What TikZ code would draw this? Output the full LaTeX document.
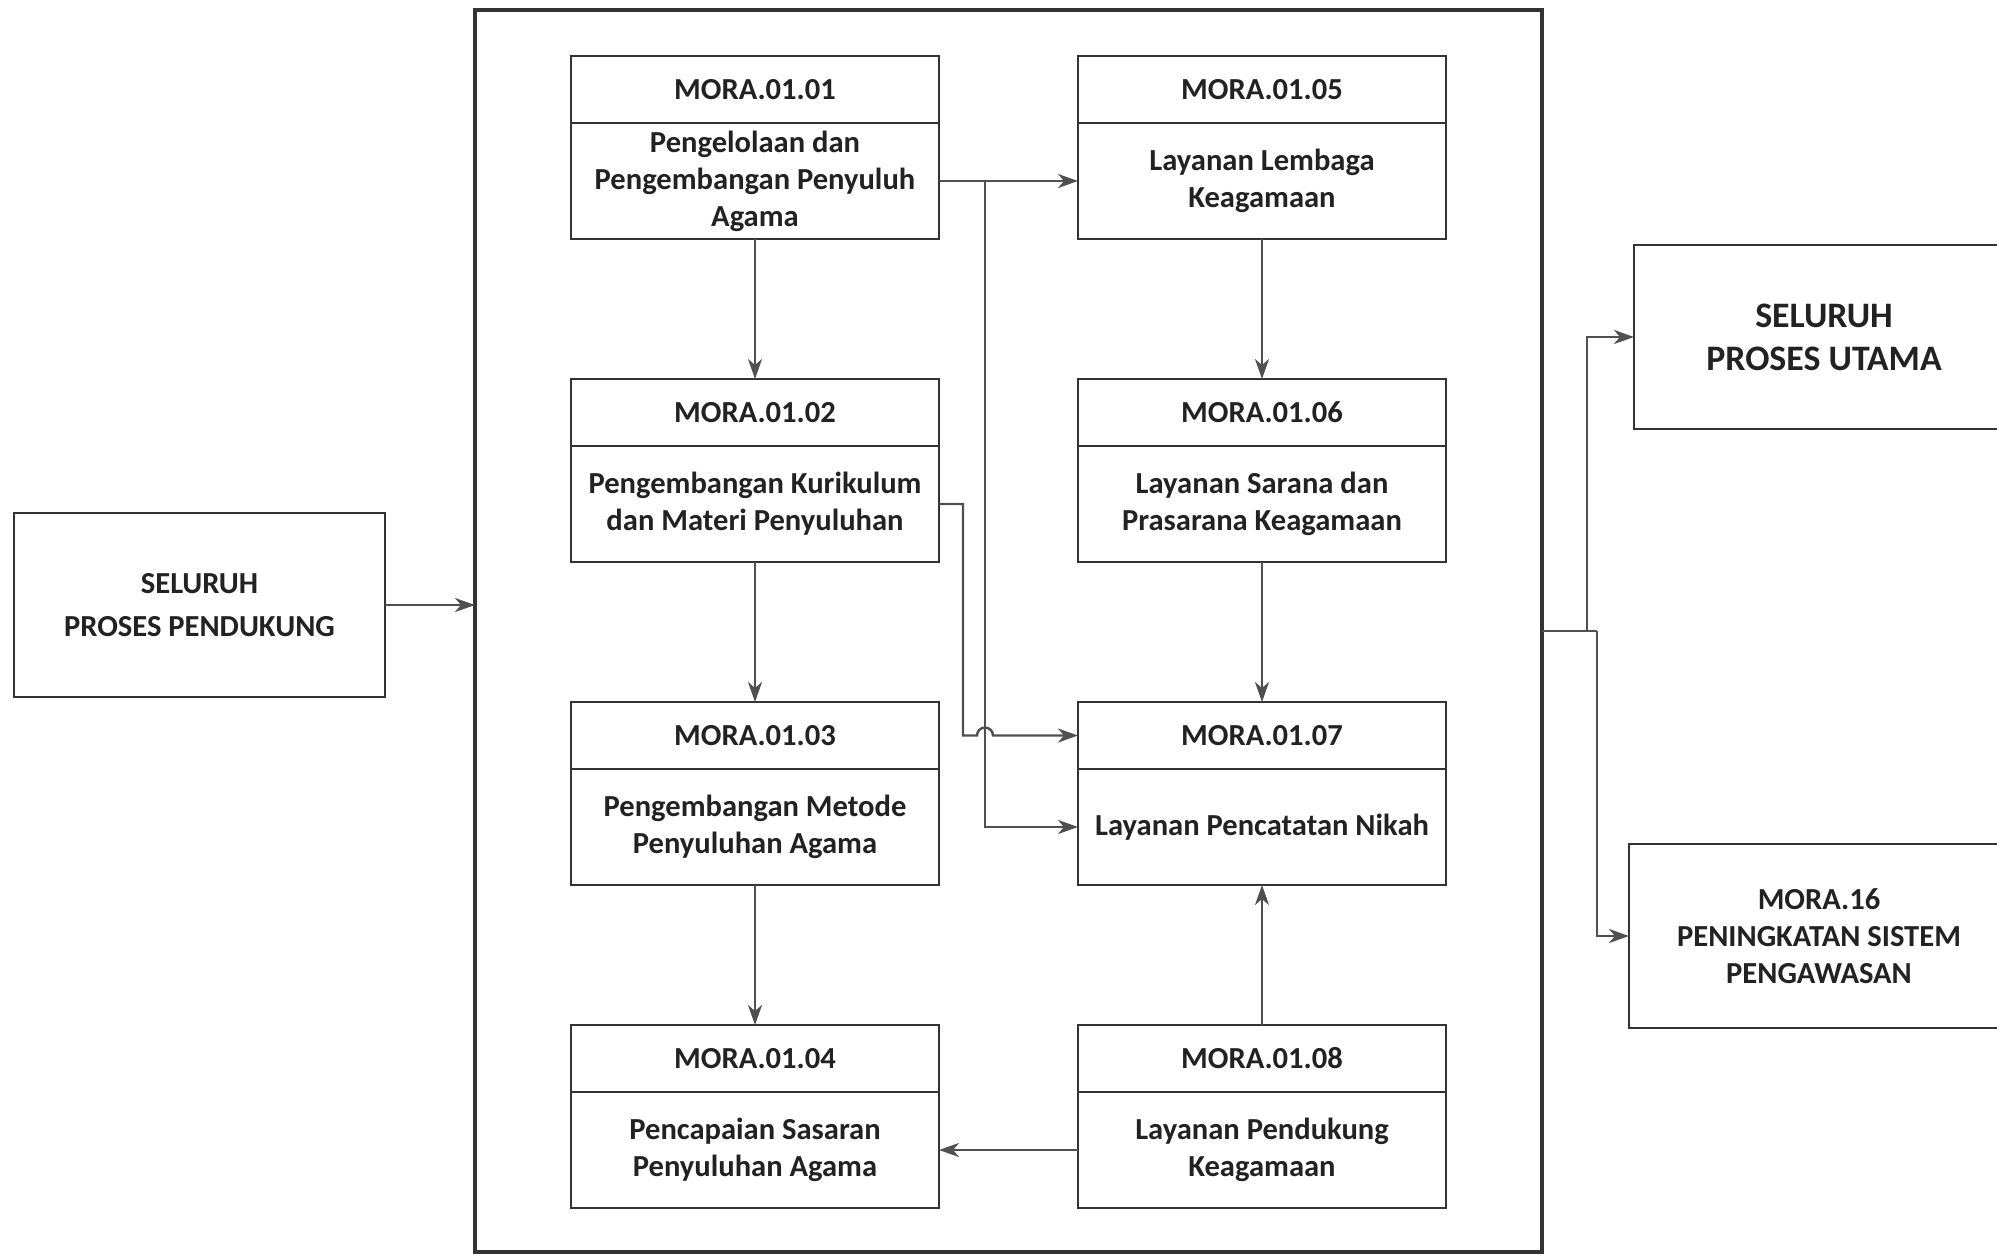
\documentclass[tikz,border=0pt]{standalone}
\usepackage{fontspec}
\setmainfont{Carlito}
\usetikzlibrary{arrows.meta, positioning, calc}

\definecolor{boxgray}{HTML}{333333}
\definecolor{linegray}{HTML}{505050}
\definecolor{textgray}{HTML}{222222}

\begin{document}
\begin{tikzpicture}[
  headblock/.style = {draw=boxgray, line width=0.7pt, outer sep=0pt, inner sep=0pt, minimum height=0.67cm, minimum width=3.68cm, align=center, text=textgray, font=\bfseries\fontsize{8.7}{10.5}\selectfont},
  bodyblock/.style = {headblock, minimum height=1.16cm},
  block/.style = {draw=boxgray, line width=0.7pt, outer sep=0pt, minimum height=1.84cm, minimum width=3.71cm, align=center, text=textgray, font=\bfseries\fontsize{8.7}{10.5}\selectfont},
  outerframe/.style = {draw=boxgray, line width=1pt, outer sep=0pt, minimum width=10.67cm, minimum height=12.42cm},
  arrow/.style = {draw=linegray, line width=0.7pt, -{Stealth[length=2mm, width=1.4mm, inset=0.6mm]}},
  node distance=1.4cm and 1.39cm
]
  \useasboundingbox (0,0) rectangle (19.97,-12.55);

  % ======================================================
  % Outer frame and outside blocks
  % ======================================================
  \node[outerframe] (frame) at (10.085,-6.31) {};

  \node[block] (pendukung) at (1.995,-6.05) {SELURUH\\[1.5pt]PROSES PENDUKUNG};

  \node[block, minimum width=3.8cm, font=\bfseries\fontsize{10.2}{12.3}\selectfont] (utama) at (18.24,-3.37) {SELURUH\\PROSES UTAMA};

  \node[block, minimum width=3.8cm] (pengawasan) at (18.19,-9.36) {MORA.16\\PENINGKATAN SISTEM\\PENGAWASAN};

  % ======================================================
  % Left column
  % ======================================================
  \node[headblock] (h1) at (7.55,-0.895) {MORA.01.01};
  \node[bodyblock, below=0pt of h1] (b1) {Pengelolaan dan\\Pengembangan Penyuluh\\Agama};

  \node[headblock, below=of b1] (h2) {MORA.01.02};
  \node[bodyblock, below=0pt of h2] (b2) {Pengembangan Kurikulum\\dan Materi Penyuluhan};

  \node[headblock, below=of b2] (h3) {MORA.01.03};
  \node[bodyblock, below=0pt of h3] (b3) {Pengembangan Metode\\Penyuluhan Agama};

  \node[headblock, below=of b3] (h4) {MORA.01.04};
  \node[bodyblock, below=0pt of h4] (b4) {Pencapaian Sasaran\\Penyuluhan Agama};

  % ======================================================
  % Right column
  % ======================================================
  \node[headblock, right=of h1] (h5) {MORA.01.05};
  \node[bodyblock, below=0pt of h5] (b5) {Layanan Lembaga\\Keagamaan};

  \node[headblock, below=of b5] (h6) {MORA.01.06};
  \node[bodyblock, below=0pt of h6] (b6) {Layanan Sarana dan\\Prasarana Keagamaan};

  \node[headblock, below=of b6] (h7) {MORA.01.07};
  \node[bodyblock, below=0pt of h7] (b7) {Layanan Pencatatan Nikah};

  \node[headblock, below=of b7] (h8) {MORA.01.08};
  \node[bodyblock, below=0pt of h8] (b8) {Layanan Pendukung\\Keagamaan};

  % ======================================================
  % Connectors
  % ======================================================
  % input from supporting processes
  \draw[arrow] (pendukung.east) -- (pendukung.east -| frame.west);

  % vertical flows
  \draw[arrow] (b1.south) -- (h2.north);
  \draw[arrow] (b2.south) -- (h3.north);
  \draw[arrow] (b3.south) -- (h4.north);
  \draw[arrow] (b5.south) -- (h6.north);
  \draw[arrow] (b6.south) -- (h7.north);
  \draw[arrow] (h8.north) -- (b7.south);
  \draw[arrow] (b8.west) -- (b4.east);

  % 01.01 -> 01.05 with branch to 01.07
  \coordinate (split1) at ($(b1.east)+(0.46,0)$);
  \draw[arrow] (b1.east) -- (b5.west);
  \draw[arrow] (split1) |- (b7.west);

  % 01.02 -> 01.07 (jumps over the branch)
  \coordinate (bend2) at ($(b2.east)+(0.24,0)$);
  \draw[arrow] (b2.east) -- (bend2) |- ($(h7.west -| split1)+(-0.08,0)$)
    arc[start angle=180, end angle=0, radius=0.08] -- (h7.west);

  % output to main processes
  \coordinate (outA) at ($(frame.east)+(0.45,0)$);
  \coordinate (outB) at ($(frame.east)+(0.55,0)$);
  \draw[draw=linegray, line width=0.7pt] (frame.east) -- (outB);
  \draw[arrow] (outA) |- (utama.west);
  \draw[arrow] (outB) |- (pengawasan.west);

\end{tikzpicture}
\end{document}
